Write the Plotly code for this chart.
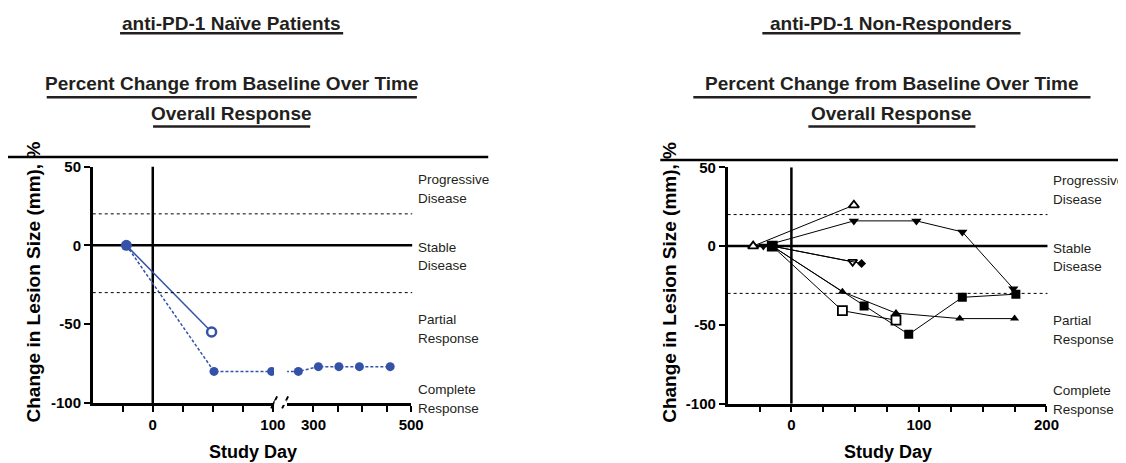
import plotly.graph_objects as go

W, H = 1126, 463
# measured mapping from figure pixels to the photographed page (x: a*f+b)
AX, BX = 0.988, 8.0
AY, BY = 0.964, 16.3

# ---------------- data ----------------
# Left panel: anti-PD-1 naive patients (study day, % change)
naive_solid_day = [-22, 49]
naive_solid_pct = [0, -55]
naive_dash_day = [-22, 51, 99, 269, 310, 352, 394, 457]
naive_dash_pct = [0, -80, -80, -80, -77, -77, -77, -77]

# Right panel: anti-PD-1 non-responders
nr_open_tri_up_day = [-30, 49]
nr_open_tri_up_pct = [0, 26]
nr_tri_down_day = [-22, 49, 98, 134, 174]
nr_tri_down_pct = [0, 16, 16, 9, -27]
nr_open_tri_down_day = [-15, 48]
nr_open_tri_down_pct = [0, -10]
nr_diamond_day = [-15, 55]
nr_diamond_pct = [0, -11]
nr_tri_up_day = [-15, 40, 82, 132, 175]
nr_tri_up_pct = [0, -29, -42.5, -46, -46]
nr_open_sq_day = [-15, 40, 82]
nr_open_sq_pct = [0, -41, -47]
nr_sq_day = [-15, 57, 92, 134, 176]
nr_sq_pct = [0, -38, -56, -32.5, -30.5]

y_ticks = [50, 0, -50, -100]
y_ticktext = ["50", "0", "-50", "-100"]
left_ticks_a = [-25, 0, 25, 50, 75, 100]
left_text_a = ["", "0", "", "", "", "100"]
left_ticks_b = [300, 350, 400, 450, 500]
left_text_b = ["300", "", "", "", "500"]
right_ticks = [-25, 0, 25, 50, 75, 100, 125, 150, 175, 200]
right_text = ["", "0", "", "", "", "100", "", "", "", "200"]

thresholds = [20, -30]
zones = [("Progressive", "Disease"), ("Stable", "Disease"),
         ("Partial", "Response"), ("Complete", "Response")]

BLUE = "#3452a8"
BOLD = "Liberation Sans, Arial, sans-serif"
TITLE_FONT = "Liberation Sans, Arial, sans-serif"


def px(x):
    return ((x - BX) / AX) / W


def py(y):
    return 1 - ((y - BY) / AY) / H


fig = go.Figure()

# left panel traces (both axis segments, clipped by ranges)
for xa in ["x", "x2"]:
    fig.add_trace(go.Scatter(x=naive_dash_day, y=naive_dash_pct, xaxis=xa, yaxis="y",
                             mode="lines+markers",
                             line=dict(color=BLUE, width=1.5, dash="3px,2px"),
                             marker=dict(color=BLUE, size=9, symbol="circle"),
                             showlegend=False))
    fig.add_trace(go.Scatter(x=naive_solid_day, y=naive_solid_pct, xaxis=xa, yaxis="y",
                             mode="lines",
                             line=dict(color=BLUE, width=1.5),
                             showlegend=False))
fig.add_trace(go.Scatter(x=naive_solid_day[1:], y=naive_solid_pct[1:], xaxis="x", yaxis="y",
                         mode="markers",
                         marker=dict(color="white", size=9, symbol="circle",
                                     line=dict(color=BLUE, width=2.5)),
                         showlegend=False))
fig.add_trace(go.Scatter(x=naive_solid_day[:1], y=naive_solid_pct[:1], xaxis="x", yaxis="y",
                         mode="markers", marker=dict(color=BLUE, size=11),
                         showlegend=False))

# right panel traces
series = [
    (nr_open_tri_up_day, nr_open_tri_up_pct, "triangle-up", True, 9),
    (nr_tri_down_day, nr_tri_down_pct, "triangle-down", False, 9),
    (nr_open_tri_down_day, nr_open_tri_down_pct, "triangle-down", True, 8),
    (nr_diamond_day, nr_diamond_pct, "diamond", False, 7),
    (nr_tri_up_day, nr_tri_up_pct, "triangle-up", False, 8),
    (nr_open_sq_day, nr_open_sq_pct, "square", True, 9),
    (nr_sq_day, nr_sq_pct, "square", False, 9),
]
for d, p, sym, hollow, sz in series:
    mk = dict(symbol=sym, size=sz, color="white" if hollow else "black",
              line=dict(color="black", width=1.8 if hollow else 0))
    fig.add_trace(go.Scatter(x=d, y=p, xaxis="x3", yaxis="y2", mode="lines+markers",
                             line=dict(color="black", width=1), marker=mk,
                             showlegend=False))

axis_common = dict(showgrid=False, zeroline=False, showline=True, linecolor="black",
                   linewidth=2.5, ticks="outside", ticklen=6, tickwidth=2,
                   tickcolor="black",
                   tickfont=dict(family=BOLD, size=15, color="black", weight="bold"))

fig.update_layout(
    width=W, height=H, autosize=False, margin=dict(l=0, r=0, t=0, b=0),
    paper_bgcolor="white", plot_bgcolor="rgba(0,0,0,0)",
    xaxis=dict(domain=[px(92.7), px(273.9)], range=[-50, 101], anchor="y",
               tickvals=left_ticks_a, ticktext=left_text_a, **axis_common),
    xaxis2=dict(domain=[px(287), px(411)], range=[246, 500], anchor="y",
                tickvals=left_ticks_b, ticktext=left_text_b, **axis_common),
    xaxis3=dict(domain=[px(727.3), px(1046)], range=[-50, 200], anchor="y2",
                tickvals=right_ticks, ticktext=right_text, **axis_common),
    yaxis=dict(domain=[py(402.5), py(166)], range=[-100, 50], anchor="x",
               tickvals=y_ticks, ticktext=y_ticktext, **axis_common),
    yaxis2=dict(domain=[py(403.3), py(166.7)], range=[-100, 50], anchor="x3",
                tickvals=y_ticks, ticktext=y_ticktext, **axis_common),
)

shapes = []
# panel geometry: (yref, xref, y-axis px, right end px, top-rule y, rule x0, rule x1)
panels = [("y", "x", 92.7, 412, 156.5, 8, 488),
          ("y2", "x3", 727.3, 1047, 159.5, 660, 1123)]
for yref, xref, x0p, x1p, ry, rx0, rx1 in panels:
    for t in thresholds:
        shapes.append(dict(type="line", xref="paper", yref=yref, x0=px(x0p), x1=px(x1p),
                           y0=t, y1=t, line=dict(color="black", width=1, dash="dot")))
    shapes.append(dict(type="line", xref="paper", yref=yref, x0=px(x0p), x1=px(x1p),
                       y0=0, y1=0, line=dict(color="black", width=2.5), layer="below"))
    shapes.append(dict(type="line", xref=xref, yref=yref, x0=0, x1=0, y0=-100, y1=50,
                       line=dict(color="black", width=2.5), layer="below"))
    shapes.append(dict(type="line", xref="paper", yref="paper", x0=px(rx0), x1=px(rx1),
                       y0=py(ry), y1=py(ry), line=dict(color="black", width=2.5)))

# axis break marks
for bx in [271, 282]:
    shapes.append(dict(type="line", xref="paper", yref="paper", x0=px(bx), x1=px(bx + 6),
                       y0=py(408), y1=py(396), line=dict(color="black", width=2)))
# white gap between the segments
shapes.append(dict(type="rect", xref="paper", yref="paper", x0=px(274.5), x1=px(286.5),
                   y0=py(400), y1=py(404.5), line=dict(width=0), fillcolor="white",
                   layer="above"))

annotations = []
titles = [
    ("anti-PD-1 Naïve Patients", 231.7, 23, 120, 343, 32.5),
    ("Percent Change from Baseline Over Time", 231.7, 83, 46.7, 416.7, 96.5),
    ("Overall Response", 231.7, 113, 153, 310, 126),
    ("anti-PD-1 Non-Responders", 891, 23, 762, 1020, 32.5),
    ("Percent Change from Baseline Over Time", 891.5, 83, 693, 1090, 96.5),
    ("Overall Response", 891.5, 113, 808, 975, 126),
]
for txt, cx, cy, ux0, ux1, uy in titles:
    annotations.append(dict(text=txt, x=px(cx), y=py(cy), xref="paper", yref="paper",
                            showarrow=False, xanchor="center", yanchor="middle",
                            font=dict(family=TITLE_FONT, size=19, color="#231f20",
                                      weight="bold")))
    shapes.append(dict(type="line", xref="paper", yref="paper", x0=px(ux0), x1=px(ux1),
                       y0=py(uy), y1=py(uy), line=dict(color="#231f20", width=2.5)))

zone_y = [(179, 197.7), (246.7, 265.3), (319, 338), (389, 408)]
for lx, dy in [(416, 0), (1051, 1)]:
    for (l1, l2), (y1, y2) in zip(zones, zone_y):
        for t, yy in [(l1, y1), (l2, y2)]:
            annotations.append(dict(text=t, x=px(lx), y=py(yy + dy), xref="paper",
                                    yref="paper", showarrow=False, xanchor="left",
                                    yanchor="middle",
                                    font=dict(family=BOLD, size=13.5, color="#231f20")))

for cx in [33, 669]:
    annotations.append(dict(text="Change in Lesion Size (mm), %", x=px(cx), y=py(282),
                            xref="paper", yref="paper", showarrow=False, textangle=-90,
                            xanchor="center", yanchor="middle",
                            font=dict(family=BOLD, size=19, color="black", weight="bold")))
for cx in [252.5, 887.5]:
    annotations.append(dict(text="Study Day", x=px(cx), y=py(451.5), xref="paper",
                            yref="paper", showarrow=False, xanchor="center",
                            yanchor="middle",
                            font=dict(family=BOLD, size=18, color="black", weight="bold")))

fig.update_layout(shapes=shapes, annotations=annotations)
fig.write_html("out.html")
